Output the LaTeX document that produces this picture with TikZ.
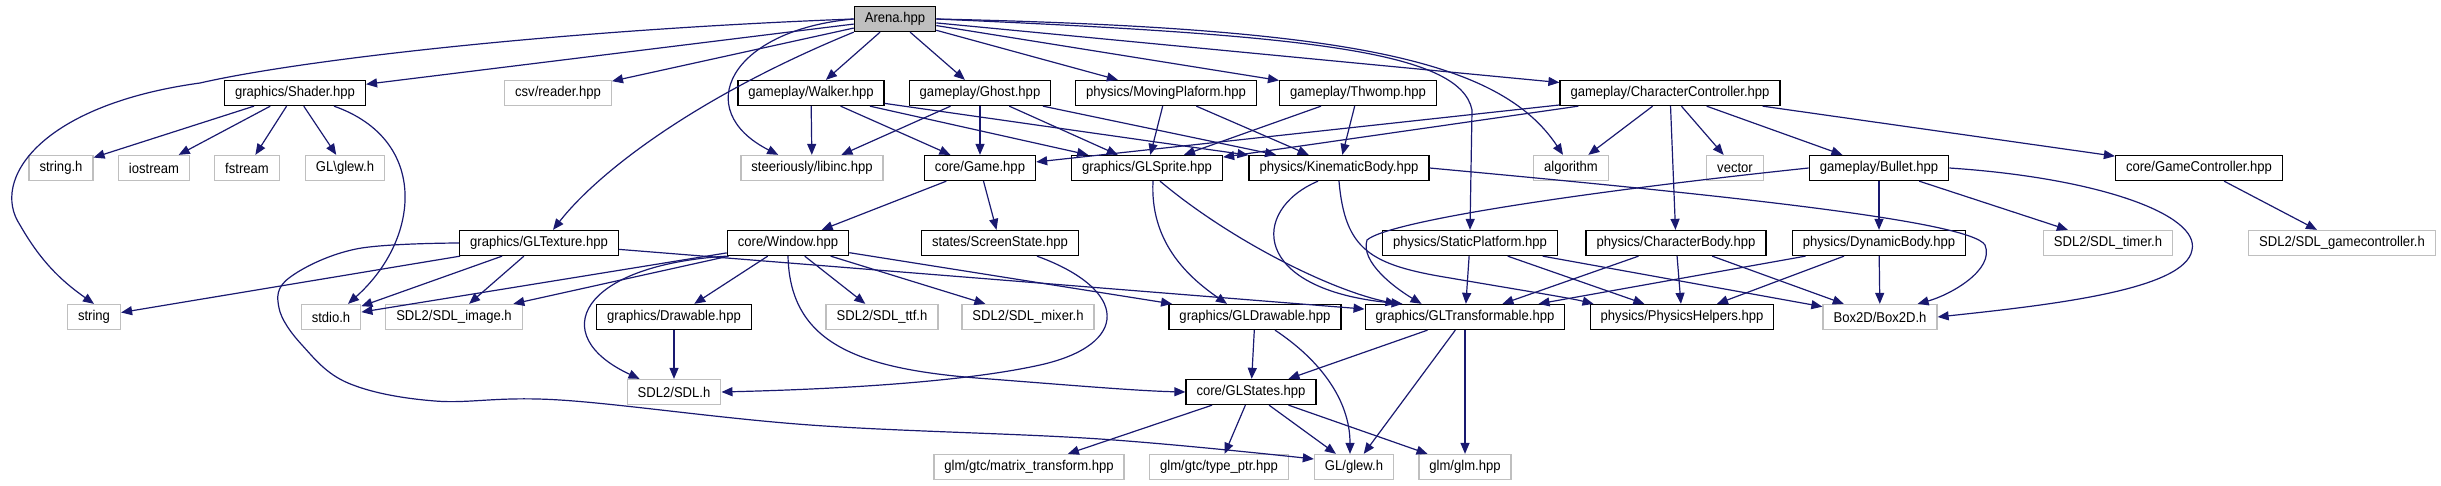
\documentclass[tikz,border=0pt]{standalone}
\usepackage{fontspec}
\setmainfont{Liberation Sans}[FakeStretch=0.92]
\usetikzlibrary{arrows.meta,calc}
\definecolor{edgeblue}{HTML}{191970}
\definecolor{extgray}{HTML}{BFBFBF}
\tikzset{
  hdr/.style={draw=black, line width=1.3pt, fill=white, inner xsep=10.5pt, inner ysep=0pt,
    minimum height=25pt, font=\fontsize{14.2}{15}\selectfont},
  syshdr/.style={hdr, draw=extgray},
  roothdr/.style={hdr, fill=extgray},
  dep/.style={edgeblue, line width=1.2pt, -{Triangle[length=11pt,width=9pt]}},
}
\begin{document}
\begin{tikzpicture}[x=1pt, y=-1pt]
  \useasboundingbox (0,0) rectangle (2441,485);
  % root file
  \node[roothdr] (arena) at (895,19) {Arena.hpp};
  % first level includes
  \node[hdr]    (shader)     at (295,93)  {graphics/Shader.hpp};
  \node[syshdr] (csvreader)  at (558,93)  {csv/reader.hpp};
  \node[hdr]    (walker)     at (811,93)  {gameplay/Walker.hpp};
  \node[hdr]    (ghost)      at (980,93)  {gameplay/Ghost.hpp};
  \node[hdr]    (movingplat) at (1166,93) {physics/MovingPlaform.hpp};
  \node[hdr]    (thwomp)     at (1358,93) {gameplay/Thwomp.hpp};
  \node[hdr]    (charctrl)   at (1670,93) {gameplay/CharacterController.hpp};
  % second level
  \node[syshdr] (stringh)   at (61,168)   {string.h};
  \node[syshdr] (iostream)  at (154,168)  {iostream};
  \node[syshdr] (fstream)   at (247,168)  {fstream};
  \node[syshdr] (glewwin)   at (345,168)  {GL\textbackslash glew.h};
  \node[syshdr] (libinc)    at (812,168)  {steeriously/libinc.hpp};
  \node[hdr]    (game)      at (980,168)  {core/Game.hpp};
  \node[hdr]    (glsprite)  at (1147,168) {graphics/GLSprite.hpp};
  \node[hdr]    (kinbody)   at (1339,168) {physics/KinematicBody.hpp};
  \node[syshdr] (algorithm) at (1571,168) {algorithm};
  \node[syshdr] (vector)    at (1735,168) {vector};
  \node[hdr]    (bullet)    at (1879,168) {gameplay/Bullet.hpp};
  \node[hdr]    (gamectrl)  at (2199,168) {core/GameController.hpp};
  % third level
  \node[hdr]    (gltexture)   at (539,243)  {graphics/GLTexture.hpp};
  \node[hdr]    (window)      at (788,243)  {core/Window.hpp};
  \node[hdr]    (screenstate) at (1000,243) {states/ScreenState.hpp};
  \node[hdr]    (staticplat)  at (1470,243) {physics/StaticPlatform.hpp};
  \node[hdr]    (charbody)    at (1676,243) {physics/CharacterBody.hpp};
  \node[hdr]    (dynbody)     at (1879,243) {physics/DynamicBody.hpp};
  \node[syshdr] (sdltimer)    at (2108,243) {SDL2/SDL\_timer.h};
  \node[syshdr] (sdlgamectrl) at (2342,243) {SDL2/SDL\_gamecontroller.h};
  % fourth level
  \node[syshdr] (string)     at (94,317)   {string};
  \node[syshdr] (stdio)      at (331,317)  {stdio.h};
  \node[syshdr] (sdlimage)   at (454,317)  {SDL2/SDL\_image.h};
  \node[hdr]    (drawable)   at (674,317)  {graphics/Drawable.hpp};
  \node[syshdr] (sdlttf)     at (882,317)  {SDL2/SDL\_ttf.h};
  \node[syshdr] (sdlmixer)   at (1028,317) {SDL2/SDL\_mixer.h};
  \node[hdr]    (gldrawable) at (1255,317) {graphics/GLDrawable.hpp};
  \node[hdr]    (gltransf)   at (1465,317) {graphics/GLTransformable.hpp};
  \node[hdr]    (physhelp)   at (1682,317) {physics/PhysicsHelpers.hpp};
  \node[syshdr] (box2d)      at (1880,317) {Box2D/Box2D.h};
  % bottom levels
  \node[syshdr] (sdl)      at (674,392)  {SDL2/SDL.h};
  \node[hdr]    (glstates) at (1251,392) {core/GLStates.hpp};
  \node[syshdr] (matrixtf) at (1029,467) {glm/gtc/matrix\_transform.hpp};
  \node[syshdr] (typeptr)  at (1219,467) {glm/gtc/type\_ptr.hpp};
  \node[syshdr] (glew)     at (1354,467) {GL/glew.h};
  \node[syshdr] (glm)      at (1465,467) {glm/glm.hpp};

  % straight include edges
  \foreach \from/\to in {arena/shader, arena/csvreader, arena/walker, arena/ghost,
      arena/movingplat, arena/thwomp, arena/charctrl,
      shader/stringh, shader/iostream, shader/fstream, shader/glewwin,
      walker/libinc, walker/game, walker/glsprite, walker/kinbody,
      ghost/libinc, ghost/game, ghost/glsprite, ghost/kinbody,
      movingplat/glsprite, movingplat/kinbody, thwomp/glsprite, thwomp/kinbody,
      charctrl/game, charctrl/glsprite, charctrl/algorithm, charctrl/vector,
      charctrl/charbody, charctrl/bullet, charctrl/gamectrl,
      game/window, game/screenstate,
      bullet/dynbody, bullet/sdltimer, gamectrl/sdlgamectrl,
      gltexture/string, gltexture/stdio, gltexture/sdlimage, gltexture/gltransf,
      window/stdio, window/sdlimage, window/drawable, window/sdlttf,
      window/sdlmixer, window/gldrawable,
      staticplat/gltransf, staticplat/physhelp, staticplat/box2d,
      charbody/gltransf, charbody/physhelp, charbody/box2d,
      dynbody/gltransf, dynbody/physhelp, dynbody/box2d,
      drawable/sdl, gldrawable/glstates,
      gltransf/glstates, gltransf/glew, gltransf/glm,
      glstates/matrixtf, glstates/typeptr, glstates/glew, glstates/glm}
    \draw[dep] (\from) -- (\to);

  % curved edges from Arena.hpp
  \draw[dep] (arena.west) .. controls (560,30) and (300,60) .. (200,83)
    .. controls (40,105) and (-10,180) .. (20,225)
    .. controls (40,260) and (60,280) .. (string.north);
  \draw[dep] (arena.south west) .. controls (700,95) and (600,170) .. ($(gltexture.north)+(14,0)$);
  \draw[dep] (arena.west) .. controls (730,30) and (690,110) .. ($(libinc.north west)+(38,0)$);
  \draw[dep] (arena.east) .. controls (1300,35) and (1460,50) .. (1472,110) -- (staticplat.north);
  \draw[dep] (arena.east) .. controls (1350,28) and (1500,60) .. ($(algorithm.north)+(-8,0)$);
  % other curved edges
  \draw[dep] ($(shader.south)+(39,0)$) .. controls (430,140) and (420,240) .. ($(stdio.north)+(17,0)$);
  \draw[dep] plot[smooth, tension=0.6] coordinates {(gltexture.west) (356,249) (289,278) (279,308)
    (302,345) (348,383) (435,401) (560,400) (810,425) (1100,439) ($(glew.west)+(0,-8)$)};
  \draw[dep] (window.south west) .. controls (580,265) and (545,335) .. ($(sdl.north west)+(13,0)$);
  \draw[dep] (window.south) .. controls (790,345) and (860,370) .. (990,379)
    .. controls (1080,386) and (1140,391) .. (glstates.west);
  \draw[dep] ($(screenstate.south)+(37,0)$) .. controls (1130,290) and (1130,345) .. (1040,365)
    .. controls (950,385) and (800,390) .. (sdl.east);
  \draw[dep] ($(glsprite.south)+(6,0)$) .. controls (1150,240) and (1185,275) .. ($(gldrawable.north)+(-28,0)$);
  \draw[dep] ($(glsprite.south)+(13,0)$) .. controls (1230,240) and (1330,290) .. ($(gltransf.north west)+(32,0)$);
  \draw[dep] ($(kinbody.south)+(-21,0)$) .. controls (1250,210) and (1250,290) .. ($(gltransf.north west)+(38,0)$);
  \draw[dep] (kinbody.south) .. controls (1345,250) and (1370,265) .. (1450,278)
    .. controls (1520,290) and (1570,298) .. ($(physhelp.north west)+(4,0)$);
  \draw[dep] (kinbody.east) .. controls (1700,193) and (1970,220) .. (1985,245)
    .. controls (1995,270) and (1950,295) .. ($(box2d.north east)+(-20,0)$);
  \draw[dep] (bullet.west) .. controls (1600,190) and (1390,220) .. (1367,240)
    .. controls (1360,262) and (1395,288) .. ($(gltransf.north west)+(57,0)$);
  \draw[dep] (bullet.east) .. controls (2100,178) and (2200,215) .. (2192,250)
    .. controls (2185,290) and (2050,305) .. (box2d.east);
  \draw[dep] ($(gldrawable.south)+(20,0)$) .. controls (1320,360) and (1350,400) .. ($(glew.north)+(-4,0)$);
\end{tikzpicture}
\end{document}
